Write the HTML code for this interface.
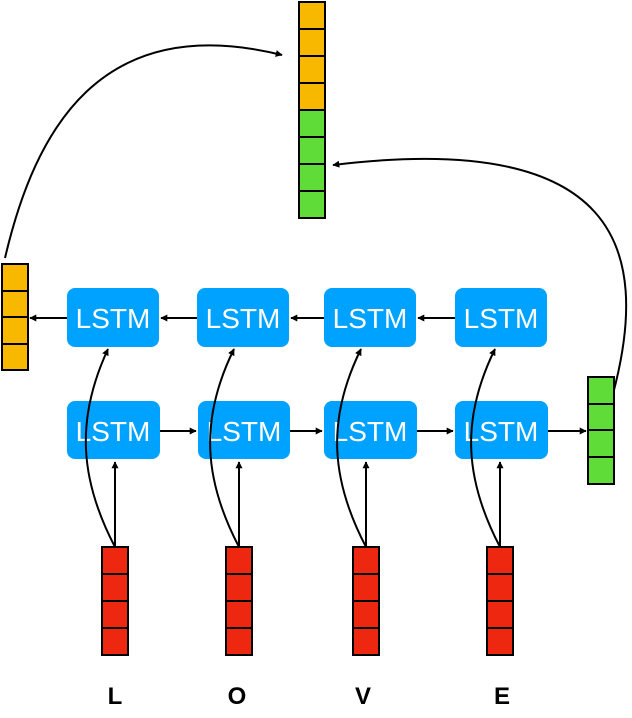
<!DOCTYPE html>
<html><head><meta charset="utf-8"><style>html,body{margin:0;padding:0;background:#fff}svg{display:block}</style></head>
<body>
<svg width="632" height="718" viewBox="0 0 632 718" xmlns="http://www.w3.org/2000/svg">
<defs><marker id="a" viewBox="0 0 10 10" refX="9" refY="5" markerWidth="7" markerHeight="7" orient="auto-start-reverse" markerUnits="userSpaceOnUse"><path d="M0,0L10,5L0,10z" fill="#000"/></marker></defs>
<g stroke="#000" stroke-width="2">
<!-- top vector -->
<g fill="#f8b800"><rect x="299" y="2" width="26" height="27"/><rect x="299" y="29" width="26" height="27"/><rect x="299" y="56" width="26" height="27"/><rect x="299" y="83" width="26" height="27"/></g>
<g fill="#60dc38"><rect x="299" y="110" width="26" height="27"/><rect x="299" y="137" width="26" height="27"/><rect x="299" y="164" width="26" height="27"/><rect x="299" y="191" width="26" height="27"/></g>
<!-- left -->
<g fill="#f8b800"><rect x="2" y="264" width="26" height="27"/><rect x="2" y="291" width="26" height="26"/><rect x="2" y="317" width="26" height="27"/><rect x="2" y="344" width="26" height="26"/></g>
<!-- right -->
<g fill="#60dc38"><rect x="588" y="377" width="26" height="27"/><rect x="588" y="404" width="26" height="26"/><rect x="588" y="430" width="26" height="27"/><rect x="588" y="457" width="26" height="27"/></g>
<!-- red -->
<g fill="#ee2810">
<rect x="102" y="547" width="26" height="27"/><rect x="102" y="574" width="26" height="27"/><rect x="102" y="601" width="26" height="27"/><rect x="102" y="628" width="26" height="27"/>
<rect x="226" y="547" width="26" height="27"/><rect x="226" y="574" width="26" height="27"/><rect x="226" y="601" width="26" height="27"/><rect x="226" y="628" width="26" height="27"/>
<rect x="353" y="547" width="26" height="27"/><rect x="353" y="574" width="26" height="27"/><rect x="353" y="601" width="26" height="27"/><rect x="353" y="628" width="26" height="27"/>
<rect x="487" y="547" width="26" height="27"/><rect x="487" y="574" width="26" height="27"/><rect x="487" y="601" width="26" height="27"/><rect x="487" y="628" width="26" height="27"/>
</g>
</g>
<g fill="#00a2ff">
<rect x="67" y="288" width="92" height="59" rx="8"/><rect x="197" y="288" width="92" height="59" rx="8"/><rect x="324" y="288" width="92" height="59" rx="8"/><rect x="455" y="288" width="92" height="59" rx="8"/>
<rect x="67" y="401" width="93" height="58" rx="8"/><rect x="198" y="401" width="92" height="58" rx="8"/><rect x="324" y="401" width="93" height="58" rx="8"/><rect x="455" y="401" width="93" height="58" rx="8"/>
</g>
<g fill="#fff" font-family="Liberation Sans, sans-serif" font-size="28" text-anchor="middle">
<text x="113" y="328">LSTM</text><text x="243" y="328">LSTM</text><text x="370" y="328">LSTM</text><text x="501" y="328">LSTM</text>
<text x="113" y="441">LSTM</text><text x="244" y="441">LSTM</text><text x="370" y="441">LSTM</text><text x="501" y="441">LSTM</text>
</g>
<g fill="none" stroke="#000" stroke-width="2" marker-end="url(#a)">
<line x1="67" y1="318" x2="30" y2="318"/><line x1="197" y1="318" x2="161" y2="318"/><line x1="324" y1="318" x2="291" y2="318"/><line x1="455" y1="318" x2="418" y2="318"/>
<line x1="160" y1="431" x2="196" y2="431"/><line x1="290" y1="431" x2="322" y2="431"/><line x1="417" y1="431" x2="453" y2="431"/><line x1="548" y1="431" x2="586" y2="431"/>
<line x1="115" y1="547" x2="115" y2="462"/><line x1="239" y1="547" x2="239" y2="462"/><line x1="366" y1="547" x2="366" y2="462"/><line x1="500" y1="547" x2="500" y2="462"/>
<path d="M115,547 C80,480 75,420 108,349"/><path d="M239,547 C204,480 199,420 234,349"/><path d="M366,547 C331,480 326,420 361,349"/><path d="M500,547 C465,480 460,420 495,349"/>
<path d="M5,258 C35,130 100,10 282,55"/>
<path d="M614,390 C650,250 620,130 333,165"/>
</g>
<g font-family="Liberation Sans, sans-serif" font-size="24" font-weight="bold" text-anchor="middle">
<text x="115" y="704">L</text><text x="237" y="704">O</text><text x="363" y="704">V</text><text x="502" y="704">E</text>
</g>
</svg>
</body></html>
